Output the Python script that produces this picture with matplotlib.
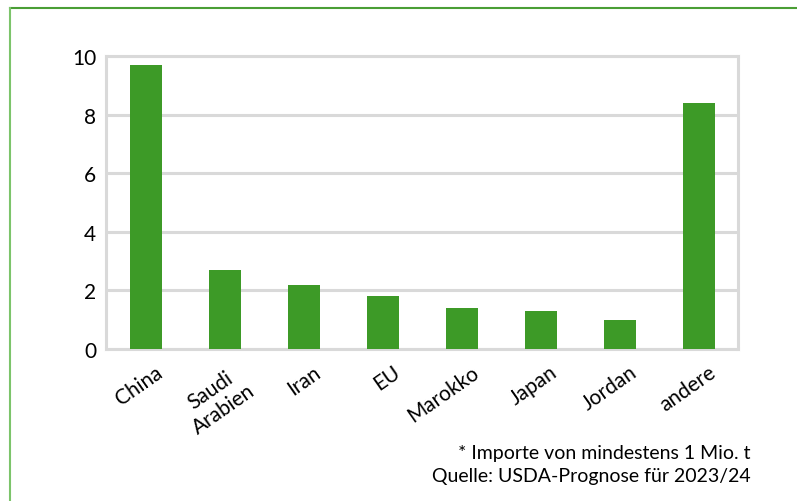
import matplotlib
matplotlib.use("Agg")
import matplotlib.pyplot as plt
from matplotlib.lines import Line2D
import numpy as np

# Weizenimporte 2023/24 in Mio. t
laender = ["China", "Saudi\nArabien", "Iran", "EU", "Marokko", "Japan", "Jordan", "andere"]
importe = [9.7, 2.7, 2.2, 1.8, 1.4, 1.3, 1.0, 8.4]
y_ticks = [0, 2, 4, 6, 8, 10]
fussnote = "* Importe von mindestens 1 Mio. t\nQuelle: USDA-Prognose für 2023/24"

plt.rcParams["font.family"] = ["Lato", "DejaVu Sans"]

grau = "#d9d9d9"
gruen = "#3d9a27"

fig = plt.figure(figsize=(7.97, 5.02), dpi=100)
ax = fig.add_axes([0.133, 0.3028, 0.793, 0.5837])

x = np.arange(len(laender))
ax.bar(x, importe, width=0.405, color=gruen, zorder=3)

ax.set_xlim(-0.5, len(laender) - 0.5)
ax.set_ylim(0, 10)
ax.set_yticks(y_ticks)
ax.set_yticklabels([str(v) for v in y_ticks], fontsize=15)
ax.yaxis.grid(True, color=grau, linewidth=2.2, zorder=0)
ax.set_axisbelow(True)

# Beschriftung schräg, rechtes Ende etwas rechts der Balkenmitte
ax.set_xticks(x + 0.12)
ax.set_xticklabels(laender, rotation=35, ha="right", rotation_mode="anchor",
                   multialignment="center", fontsize=15, linespacing=1.15)
ax.tick_params(axis="both", length=0)
ax.tick_params(axis="x", pad=9)
ax.tick_params(axis="y", pad=7)

for side in ["left", "right", "bottom", "top"]:
    ax.spines[side].set_color(grau)
    ax.spines[side].set_linewidth(2.2)

# Rahmen oben und links
fig.add_artist(Line2D([10 / 797, 1], [1 - 9 / 502, 1 - 9 / 502],
                      transform=fig.transFigure, color="#4a9e35", linewidth=1.5))
fig.add_artist(Line2D([10 / 797, 10 / 797], [0, 1 - 9 / 502],
                      transform=fig.transFigure, color="#7cc46b", linewidth=1.5))

fig.text(751 / 797, 1 - 485 / 502, fussnote, ha="right", va="bottom",
         fontsize=14, linespacing=1.4)

fig.savefig("out.png", dpi=100)
